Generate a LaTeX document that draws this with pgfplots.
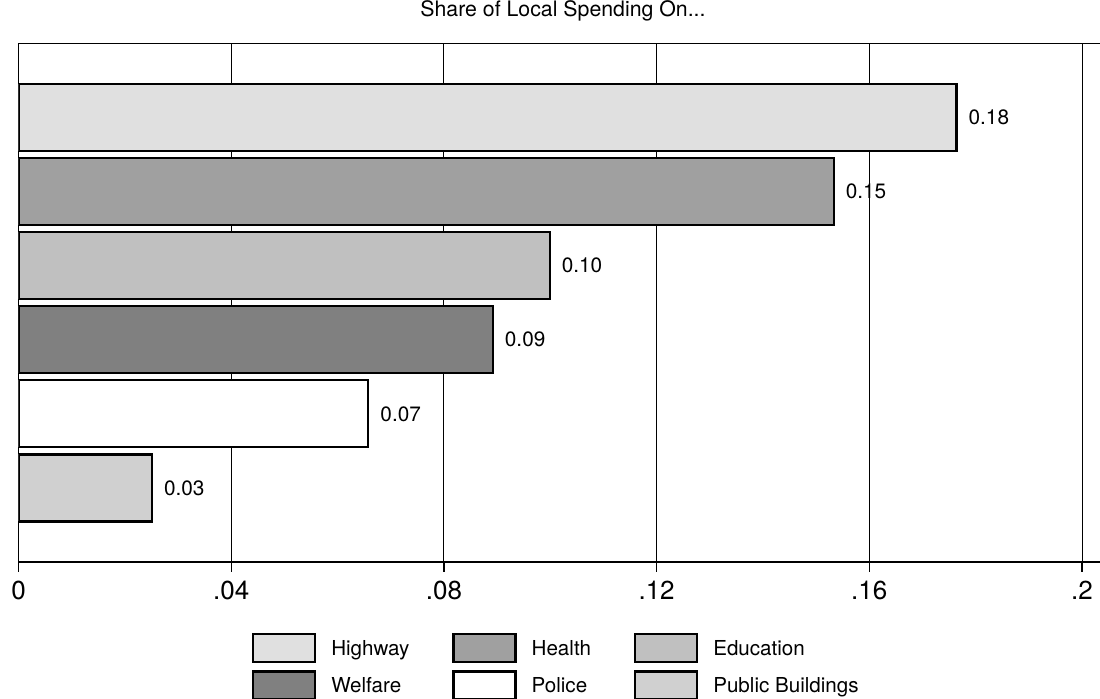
\documentclass[border=0pt]{standalone}
\usepackage{fontspec}
\setmainfont{TeX Gyre Heros}
\usepackage{pgfplots}
\pgfplotsset{compat=1.18}
\definecolor{cHigh}{HTML}{E0E0E0}
\definecolor{cHealth}{HTML}{A0A0A0}
\definecolor{cEdu}{HTML}{C0C0C0}
\definecolor{cWelf}{HTML}{808080}
\definecolor{cPol}{HTML}{FFFFFF}
\definecolor{cPub}{HTML}{D0D0D0}
\begin{document}
\begin{tikzpicture}
\useasboundingbox (-9.25pt,-68.5pt) rectangle (540.75pt,281pt);
\begin{axis}[
  scale only axis,
  width=542pt, height=259.25pt,
  xbar,
  xmin=0, xmax=0.203855,
  ymin=0, ymax=7,
  ytick=\empty,
  xtick={0,0.04,0.08,0.12,0.16,0.2},
  xticklabels={0,.04,.08,.12,.16,.2},
  xtick pos=bottom,
  tick align=outside,
  major tick length=5pt,
  major tick style={black, line width=0.6pt},
  xmajorgrids,
  major grid style={black, line width=0.5pt},
  axis line style={black, line width=0.9pt},
  xticklabel style={font=\fontsize{13}{15}\selectfont, anchor=base, inner sep=0pt, yshift=-14pt},
  title={Share of Local Spending On...},
  title style={at={(0.5023,1.02797)}, anchor=base, font=\fontsize{10.65}{12}\selectfont, inner sep=0pt},
  nodes near coords style={font=\fontsize{10.4}{12}\selectfont, inner sep=0pt, xshift=5.5pt, anchor=west, black},
  legend columns=3,
  legend cell align=left,
  legend style={at={(0.2155,-0.13635)}, anchor=north west, draw=none, fill=none,
    inner sep=0pt, outer sep=0pt, font=\fontsize{10.3}{12}\selectfont,
    nodes={inner sep=0pt, text height=7.4pt, text depth=0pt},
    row sep=3.75pt,
    /tikz/every odd column/.append style={column sep=7.5pt},
    /tikz/every even column/.append style={column sep=21.5pt}},
  bb/.style={draw=black, line width=1.1pt, bar shift=0pt, bar width=0.905,
    legend image code/.code={\draw[##1, line width=1.1pt] (0pt,-7pt) rectangle (31pt,7pt);}},
]
\addplot[bb, fill=cHigh, nodes near coords={0.18}] coordinates {(0.1764,6)};
\addlegendentry{Highway}
\addplot[bb, fill=cHealth, nodes near coords={0.15}] coordinates {(0.1533,5)};
\addlegendentry{Health}
\addplot[bb, fill=cEdu, nodes near coords={0.10}] coordinates {(0.0999,4)};
\addlegendentry{Education}
\addplot[bb, fill=cWelf, nodes near coords={0.09}] coordinates {(0.0892,3)};
\addlegendentry{Welfare}
\addplot[bb, fill=cPol, nodes near coords={0.07}] coordinates {(0.0658,2)};
\addlegendentry{Police}
\addplot[bb, fill=cPub, nodes near coords={0.03}] coordinates {(0.0251,1)};
\addlegendentry{Public Buildings}
\end{axis}
\end{tikzpicture}
\end{document}
